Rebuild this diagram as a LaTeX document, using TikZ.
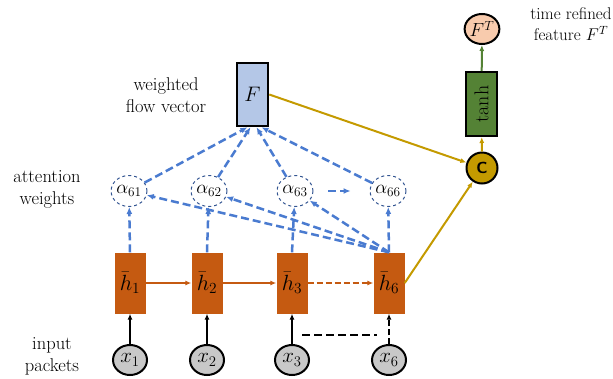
\RequirePackage{fix-cm}
\documentclass[tikz,border=0pt]{standalone}
\usepackage{amsmath}
\usetikzlibrary{arrows.meta, shapes.geometric}
\definecolor{attblue}{HTML}{4A7BD0}
\definecolor{rnnorange}{HTML}{C55A11}
\definecolor{mixgold}{HTML}{C49A00}
\definecolor{tanhgreen}{HTML}{548235}
\definecolor{flowblue}{HTML}{B4C7E7}
\definecolor{outpeach}{HTML}{F8CBAD}
\definecolor{pktgray}{HTML}{C8C8C8}
\tikzset{
  hbox/.style={rectangle, fill=rnnorange, minimum width=31pt, minimum height=61pt, inner sep=0pt, font=\fontsize{22}{24}\selectfont},
  pkt/.style={ellipse, draw, line width=2pt, fill=pktgray, minimum width=34pt, minimum height=30pt, inner sep=0pt, font=\fontsize{21}{23}\selectfont},
  weight/.style={ellipse, draw=attblue!70!black, dashed, line width=1pt, minimum width=35pt, minimum height=31pt, inner sep=0pt, font=\fontsize{19}{21}\selectfont},
  label/.style={align=center, font=\fontsize{18.5}{22}\selectfont},
  attarrow/.style={-{Latex[length=7pt,width=6pt]}, attblue, line width=2.5pt, dash pattern=on 8pt off 4pt},
  plain/.style={-{Latex[length=6pt,width=5pt]}, line width=2pt},
}
\begin{document}
\begin{tikzpicture}[x=1pt, y=-1pt]
  \useasboundingbox (0,0) rectangle (613,378);
  % recurrent part
  \foreach \i/\px/\ax in {1/130/129, 2/207/209, 3/292/295, 6/389/388} {
    \node[hbox] (h\i) at (\px,283) {$\bar{h}_{\i}$};
    \node[pkt] (x\i) at (\px,360) {$x_{\i}$};
    \node[weight] (a\i) at (\ax,191) {$\alpha_{6\i}$};
  }
  \node[rectangle, draw, line width=2.5pt, fill=flowblue, minimum width=31pt, minimum height=63pt, font=\fontsize{21}{23}\selectfont] (F) at (252.5,94.5) {$F$};
  \node[circle, draw, line width=2pt, fill=mixgold, minimum size=31pt, inner sep=0pt, font=\sffamily\bfseries\fontsize{16}{18}\selectfont] (C) at (482,168) {C};
  \node[rectangle, draw, line width=2pt, fill=tanhgreen, minimum width=31pt, minimum height=64pt, inner sep=0pt] (tanh) at (481.5,104) {\rotatebox{90}{\fontsize{20}{22}\selectfont tanh}};
  \node[ellipse, draw, line width=2pt, fill=outpeach, minimum width=34pt, minimum height=30pt, inner sep=0pt, font=\fontsize{19}{21}\selectfont] (FT) at (482,29) {$F^T$};
  % side texts
  \node[label] (tflow) at (166,95) {weighted\\flow vector};
  \node[label] (tatt) at (47,189) {attention\\weights};
  \node[label] (tin) at (52,356) {input\\packets};
  \node[label, font=\fontsize{17}{21}\selectfont] (tout) at (571,24) {time refined\\feature $F^T$};
  % inputs
  \foreach \i in {1,2,3} {
    \draw[plain] (x\i) -- (h\i);
  }
  \draw[plain, dash pattern=on 6pt off 3pt] (x6) -- (h6);
  \coordinate (gapl) at (302,335);
  \coordinate (gapr) at (377,335);
  \draw[line width=2pt, dash pattern=on 8pt off 4pt] (gapl) -- (gapr);
  % hidden chain
  \draw[plain, rnnorange] (h1) -- (h2);
  \draw[plain, rnnorange] (h2) -- (h3);
  \draw[plain, rnnorange, dash pattern=on 6pt off 3pt] (h3) -- (h6);
  % attention
  \foreach \i in {1,2,3,6} {
    \draw[attarrow] (h\i.north) -- (a\i);
  }
  \foreach \i in {1,2,3} {
    \draw[attarrow] (h6.north) -- (a\i);
  }
  \draw[attarrow, shorten <=15pt, shorten >=19pt] (a3) -- (a6);
  \draw[attarrow] (a1) -- ([xshift=-5pt]F.south);
  \draw[attarrow] (a2) -- ([xshift=-2pt]F.south);
  \draw[attarrow] (a3) -- ([xshift=4pt]F.south);
  \draw[attarrow] (a6) -- ([xshift=9pt]F.south);
  % output
  \draw[plain, mixgold] (F.east) -- (C);
  \draw[plain, mixgold] (h6.east) -- (C);
  \draw[plain, mixgold] (C) -- (tanh);
  \draw[plain, tanhgreen] (tanh) -- (FT);
\end{tikzpicture}
\end{document}
